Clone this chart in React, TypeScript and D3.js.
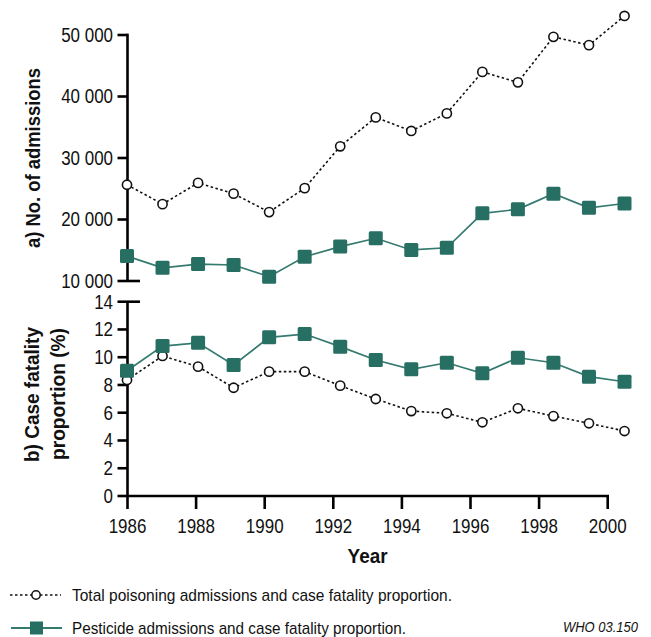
import React from "react";
import * as d3 from "d3";

const years = [1986, 1987, 1988, 1989, 1990, 1991, 1992, 1993, 1994, 1995, 1996, 1997, 1998, 1999, 2000];
const totalAdmissions = [25650, 22500, 25950, 24200, 21200, 25100, 31900, 36600, 34400, 37250, 44000, 42300, 49700, 48350, 53100];
const pesticideAdmissions = [14050, 12150, 12750, 12600, 10700, 13950, 15600, 16950, 15050, 15400, 21000, 21650, 24200, 21900, 22600];
const totalCFP = [8.36, 10.09, 9.32, 7.8, 8.96, 8.96, 7.95, 6.99, 6.12, 5.96, 5.31, 6.32, 5.76, 5.24, 4.68];
const pesticideCFP = [9.03, 10.8, 11.04, 9.44, 11.43, 11.67, 10.76, 9.8, 9.13, 9.6, 8.84, 9.96, 9.6, 8.6, 8.23];
const admissionTicks = [10000, 20000, 30000, 40000, 50000];
const cfpTicks = [0, 2, 4, 6, 8, 10, 12, 14];
const yearTicks = [1986, 1988, 1990, 1992, 1994, 1996, 1998, 2000];
const legendLabels = [
  "Total poisoning admissions and case fatality proportion.",
  "Pesticide admissions and case fatality proportion.",
];

const GREEN = "#276e63";
const GREEN_LINE = "#357a6f";
const FONT = "'Liberation Sans', Arial, sans-serif";
const TICK_SX = 0.87;

export default function App() {
  const W = 651;
  const H = 637;
  const axisX = d3.scaleLinear().domain([1986, 2000]).range([127.5, 607.7]);
  const pointX = d3.scaleLinear().domain([1986, 2000]).range([127, 624.5]);
  const yTop = d3.scaleLinear().domain([10000, 50000]).range([281, 35]);
  const yBot = d3.scaleLinear().domain([0, 14]).range([496, 301.7]);

  const fmt = (v: number) => d3.format(",")(v).replace(/,/g, " ");

  const lineTop = (vals: number[]) =>
    d3.line<number>().x((_, i) => pointX(years[i])).y((d) => yTop(d))(vals) || "";
  const lineBot = (vals: number[]) =>
    d3.line<number>().x((_, i) => pointX(years[i])).y((d) => yBot(d))(vals) || "";

  const axisStroke = 2.6;
  const tickLeft = 117.5;
  const labelX = 113;

  const circles = (vals: number[], y: (v: number) => number, key: string) =>
    vals.map((v, i) => (
      <circle key={key + i} cx={pointX(years[i])} cy={y(v)} r={4.6} fill="#fff" stroke="#111" strokeWidth={1.6} />
    ));
  const squares = (vals: number[], y: (v: number) => number, key: string) =>
    vals.map((v, i) => (
      <rect key={key + i} x={pointX(years[i]) - 7} y={y(v) - 7} width={14} height={14} rx={1.5} fill={GREEN} />
    ));

  const tickText = (x: number, y: number, s: string, anchor: string, key: string, dy = "0.35em") => (
    <text
      key={key}
      transform={`translate(${x},${y}) scale(${TICK_SX},1)`}
      dy={dy}
      textAnchor={anchor}
      fontSize={19.5}
      fill="#111"
    >
      {s}
    </text>
  );

  return (
    <svg width={W} height={H} style={{ position: "absolute", left: 0, top: 0 }} fontFamily={FONT}>
      <rect width={W} height={H} fill="#fff" />

      {/* Top panel axis */}
      <line x1={axisX(1986)} x2={axisX(1986)} y1={yTop(50000) - 1.3} y2={yTop(10000)} stroke="#000" strokeWidth={axisStroke} />
      {admissionTicks.map((t) => (
        <g key={"ta" + t}>
          <line x1={tickLeft} x2={t === 10000 ? 140 : axisX(1986)} y1={yTop(t)} y2={yTop(t)} stroke="#000" strokeWidth={axisStroke} />
          {tickText(labelX, yTop(t), fmt(t), "end", "tal" + t)}
        </g>
      ))}

      {/* Bottom panel axis */}
      <line x1={axisX(1986)} x2={axisX(1986)} y1={yBot(14)} y2={yBot(0)} stroke="#000" strokeWidth={axisStroke} />
      {cfpTicks.map((t) => (
        <g key={"tb" + t}>
          <line x1={tickLeft} x2={t === 14 ? 140 : axisX(1986)} y1={yBot(t)} y2={yBot(t)} stroke="#000" strokeWidth={axisStroke} />
          {tickText(labelX, yBot(t), String(t), "end", "tbl" + t)}
        </g>
      ))}

      {/* X axis */}
      <line x1={axisX(1986) - 1.3} x2={axisX(2000) + 1.3} y1={yBot(0)} y2={yBot(0)} stroke="#000" strokeWidth={axisStroke} />
      {yearTicks.map((t) => (
        <g key={"tx" + t}>
          <line x1={axisX(t)} x2={axisX(t)} y1={yBot(0)} y2={yBot(0) + 13} stroke="#000" strokeWidth={axisStroke} />
          {tickText(axisX(t), 533, String(t), "middle", "txl" + t, "0")}
        </g>
      ))}
      <text
        x={(axisX(1986) + axisX(2000)) / 2}
        y={563}
        textAnchor="middle"
        fontSize={20}
        fontWeight="bold"
        fill="#111"
        textLength={40}
        lengthAdjust="spacingAndGlyphs"
      >
        Year
      </text>

      {/* Y titles */}
      <text transform={`translate(40,158) rotate(-90)`} textAnchor="middle" fontSize={20} fontWeight="bold" fill="#111" textLength={180} lengthAdjust="spacingAndGlyphs">
        a) No. of admissions
      </text>
      <text transform={`translate(38.5,394.5) rotate(-90)`} textAnchor="middle" fontSize={20} fontWeight="bold" fill="#111" textLength={135} lengthAdjust="spacingAndGlyphs">
        b) Case fatality
      </text>
      <text transform={`translate(64.5,394) rotate(-90)`} textAnchor="middle" fontSize={20} fontWeight="bold" fill="#111" textLength={132} lengthAdjust="spacingAndGlyphs">
        proportion (%)
      </text>

      {/* Series top */}
      <path d={lineTop(totalAdmissions)} fill="none" stroke="#111" strokeWidth={1.6} strokeDasharray="2.5,2.5" />
      <path d={lineTop(pesticideAdmissions)} fill="none" stroke={GREEN_LINE} strokeWidth={1.7} />
      {circles(totalAdmissions, yTop, "ct")}
      {squares(pesticideAdmissions, yTop, "st")}

      {/* Series bottom */}
      <path d={lineBot(totalCFP)} fill="none" stroke="#111" strokeWidth={1.6} strokeDasharray="2.5,2.5" />
      <path d={lineBot(pesticideCFP)} fill="none" stroke={GREEN_LINE} strokeWidth={1.7} />
      {circles(totalCFP, yBot, "cb")}
      {squares(pesticideCFP, yBot, "sb")}

      {/* Legend */}
      <line x1={10} x2={61} y1={595} y2={595} stroke="#111" strokeWidth={1.6} strokeDasharray="2.5,2.5" />
      <circle cx={36} cy={595} r={4.2} fill="#fff" stroke="#111" strokeWidth={1.5} />
      <text x={72} y={595} dy="0.35em" fontSize={17} fill="#111" textLength={380} lengthAdjust="spacingAndGlyphs">
        {legendLabels[0]}
      </text>
      <line x1={11} x2={62} y1={628} y2={628} stroke={GREEN_LINE} strokeWidth={1.8} />
      <rect x={30} y={621.5} width={13} height={13} fill={GREEN} />
      <text x={72} y={628} dy="0.35em" fontSize={17} fill="#111" textLength={334} lengthAdjust="spacingAndGlyphs">
        {legendLabels[1]}
      </text>
      <text x={563} y={627} dy="0.35em" fontSize={14} fontStyle="italic" fill="#111" textLength={75} lengthAdjust="spacingAndGlyphs">
        WHO 03.150
      </text>
    </svg>
  );
}
